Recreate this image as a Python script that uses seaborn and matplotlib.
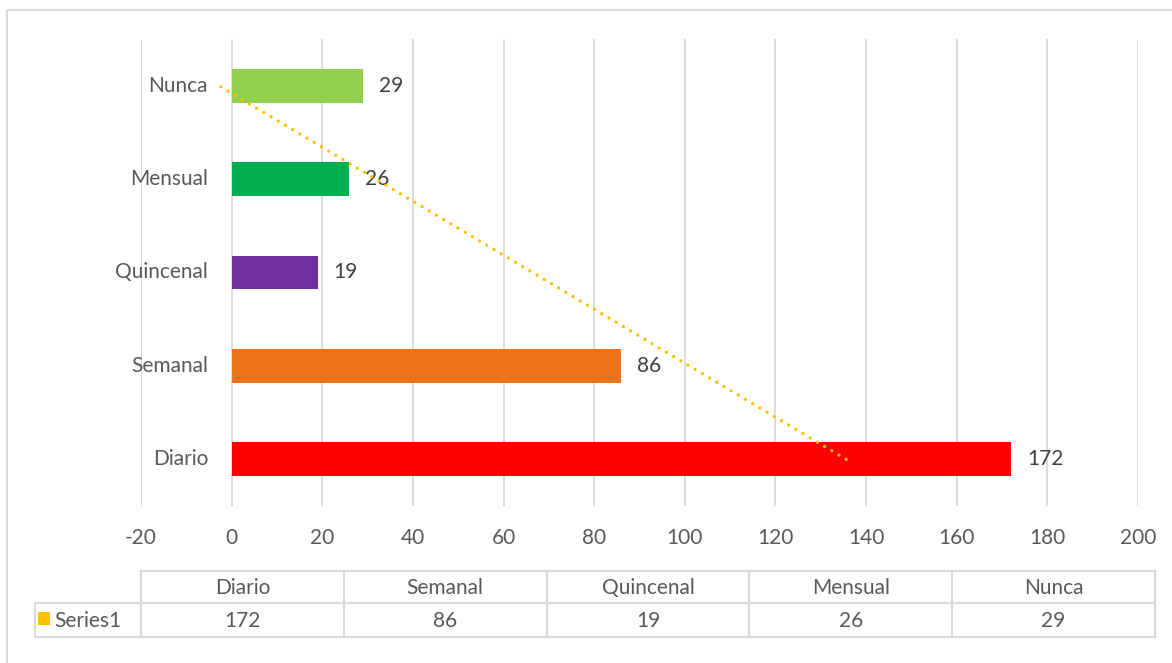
import numpy as np
import pandas as pd
import matplotlib
matplotlib.use("Agg")
import matplotlib.pyplot as plt
from matplotlib.patches import Rectangle
import seaborn as sns

# ---- data ----
categories = ["Diario", "Semanal", "Quincenal", "Mensual", "Nunca"]
values = [172, 86, 19, 26, 29]
bar_colors = ["#FF0000", "#EE7219", "#7030A0", "#00B050", "#92D050"]
series_name = "Series1"
x_ticks = [-20, 0, 20, 40, 60, 80, 100, 120, 140, 160, 180, 200]

sns.set_theme(style="white")
plt.rcParams["font.family"] = ["Lato", "DejaVu Sans"]

FS = 15
W, H = 1172, 663
fig = plt.figure(figsize=(W / 100, H / 100), dpi=100)
fig.patch.set_facecolor("white")

def px_to_fig(x0, y0, x1, y1):
    return [x0 / W, 1 - y1 / H, (x1 - x0) / W, (y1 - y0) / H]

ax = fig.add_axes(px_to_fig(141, 39, 1138, 506))

order = categories[::-1]  # Nunca on top, Diario at bottom
df = pd.DataFrame({"cat": categories, "val": values})
palette = dict(zip(categories, bar_colors))
sns.barplot(data=df, y="cat", x="val", hue="cat", order=order, hue_order=order,
            palette=palette, orient="h", width=0.36, dodge=False, legend=False,
            saturation=1, linewidth=0, ax=ax)

ax.set_xlim(x_ticks[0], x_ticks[-1])
ax.set_ylim(len(categories) - 0.5, -0.5)
ax.set_xticks(x_ticks)
ax.set_xticklabels([str(t) for t in x_ticks], fontsize=FS, color="#595959")
ax.tick_params(axis="x", length=0, pad=16)
ax.set_yticks([])
ax.set_xlabel("")
ax.set_ylabel("")
for s in ax.spines.values():
    s.set_visible(False)
ax.xaxis.grid(True, color="#D9D9D9", linewidth=1.3)
ax.set_axisbelow(True)

# category labels next to the zero line
for i, c in enumerate(order):
    ax.annotate(c, xy=(0, i), xytext=(-17, 0), textcoords="offset points",
                ha="right", va="center", fontsize=FS, color="#595959")

# value labels
for i, c in enumerate(order):
    v = values[categories.index(c)]
    ax.annotate(str(v), xy=(v, i), xytext=(11.5, 0), textcoords="offset points",
                ha="left", va="center", fontsize=FS, color="#404040")

# linear trendline (Excel style: x = category index 1..n, y = value)
k = np.arange(1, len(values) + 1)
slope, intercept = np.polyfit(k, values, 1)
trend_x = slope * k + intercept
trend_pos = [order.index(c) for c in categories]
ax.plot(trend_x, trend_pos, color="#FFC000", linewidth=2.4,
        linestyle=(0, (0.01, 2.5)), dash_capstyle="round", zorder=5)

# ---- overlay for data table and frame ----
ov = fig.add_axes([0, 0, 1, 1], facecolor="none")
ov.set_xlim(0, W)
ov.set_ylim(H, 0)
ov.axis("off")

grid_c = "#D9D9D9"
ov.add_patch(Rectangle((7, 10), W + 20, H + 20, fill=False, edgecolor=grid_c, linewidth=1.5))

col_edges = np.linspace(141, 1155, len(categories) + 1)
top, mid, bot = 571, 603, 637
lw = 1.5
ov.plot([col_edges[0], col_edges[-1]], [top, top], color=grid_c, lw=lw)
ov.plot([35, col_edges[-1]], [mid, mid], color=grid_c, lw=lw)
ov.plot([35, col_edges[-1]], [bot, bot], color=grid_c, lw=lw)
for xe in col_edges:
    ov.plot([xe, xe], [top, bot], color=grid_c, lw=lw)
ov.plot([35, 35], [mid, bot], color=grid_c, lw=lw)

for j, c in enumerate(categories):
    xc = (col_edges[j] + col_edges[j + 1]) / 2
    ov.text(xc, (top + mid) / 2 + 1, c, ha="center", va="center",
            fontsize=FS, color="#595959")
    ov.text(xc, (mid + bot) / 2 + 1, str(values[j]), ha="center", va="center",
            fontsize=FS, color="#595959")

ov.add_patch(Rectangle((38, 612), 12, 13, facecolor="#FFC000", edgecolor="none"))
ov.text(54, (mid + bot) / 2 + 1, series_name, ha="left", va="center",
        fontsize=FS, color="#595959")

fig.savefig("out.png", dpi=100, facecolor="white")
